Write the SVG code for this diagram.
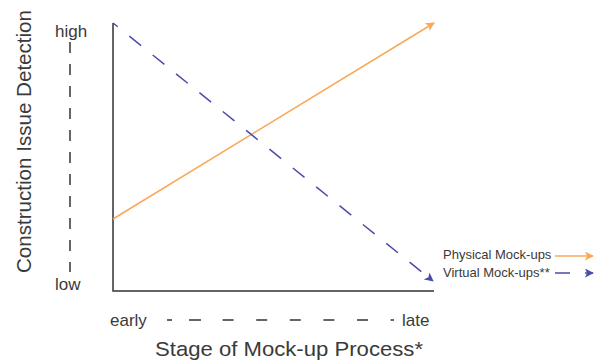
<svg xmlns="http://www.w3.org/2000/svg" width="605" height="360" viewBox="0 0 605 360">
<style>
text{font-family:"Liberation Sans",Arial,sans-serif;fill:#3a3a3a}
.lbl{font-size:17px}
.title{font-size:20.5px}
.leg{font-size:13px}
.axis{stroke:#333;stroke-width:1.5;fill:none}
.dash{stroke:#333;stroke-width:1.5;fill:none}
.phys{stroke:#F9A858;stroke-width:1.5;fill:none}
.virt{stroke:#4B4BA8;stroke-width:1.5;fill:none;stroke-dasharray:15 15}
</style>
<defs>
<marker id="ao" viewBox="0 0 10 10" refX="9" refY="5" markerWidth="9" markerHeight="9" markerUnits="userSpaceOnUse" orient="auto"><path d="M0,0 L10,5 L0,10 L2.5,5 Z" fill="#F9A858"/></marker>
<marker id="ab" viewBox="0 0 10 10" refX="9" refY="5" markerWidth="9" markerHeight="9" markerUnits="userSpaceOnUse" orient="auto"><path d="M0,0 L10,5 L0,10 L2.5,5 Z" fill="#4B4BA8"/></marker>
</defs>
<g id="axes">
<path class="axis" d="M113,23 V291 H434"/>
<path class="dash" d="M70,42 V272" stroke-dasharray="11 11"/>
<path class="dash" d="M167,320 H394" stroke-dasharray="5 17 12 21.6 11 22.6 11 22.6 11 22.6 11 22.6 11 22.6 11 22 5"/>
</g>
<g id="labels">
<text class="title" transform="translate(31,141.5) rotate(-90)" text-anchor="middle" textLength="263" lengthAdjust="spacingAndGlyphs">Construction Issue Detection</text>
<text class="lbl" x="55" y="37">high</text>
<text class="lbl" x="55" y="290">low</text>
<text class="lbl" x="110" y="326">early</text>
<text class="lbl" x="402" y="326">late</text>
<text class="title" x="155" y="356" textLength="268" lengthAdjust="spacingAndGlyphs">Stage of Mock-up Process*</text>
</g>
<g id="connectors">
<path class="phys" d="M113,219 L434,23" marker-end="url(#ao)"/>
<path class="virt" d="M113,23 L433,281" stroke-dashoffset="9" marker-end="url(#ab)"/>
</g>
<g id="legend">
<text class="leg" x="443" y="259">Physical Mock-ups</text>
<path class="phys" d="M555,256 H593" marker-end="url(#ao)"/>
<text class="leg" x="443" y="277">Virtual Mock-ups**</text>
<path class="virt" d="M555,273 H593" stroke-dasharray="6 7" marker-end="url(#ab)"/>
</g>
</svg>
